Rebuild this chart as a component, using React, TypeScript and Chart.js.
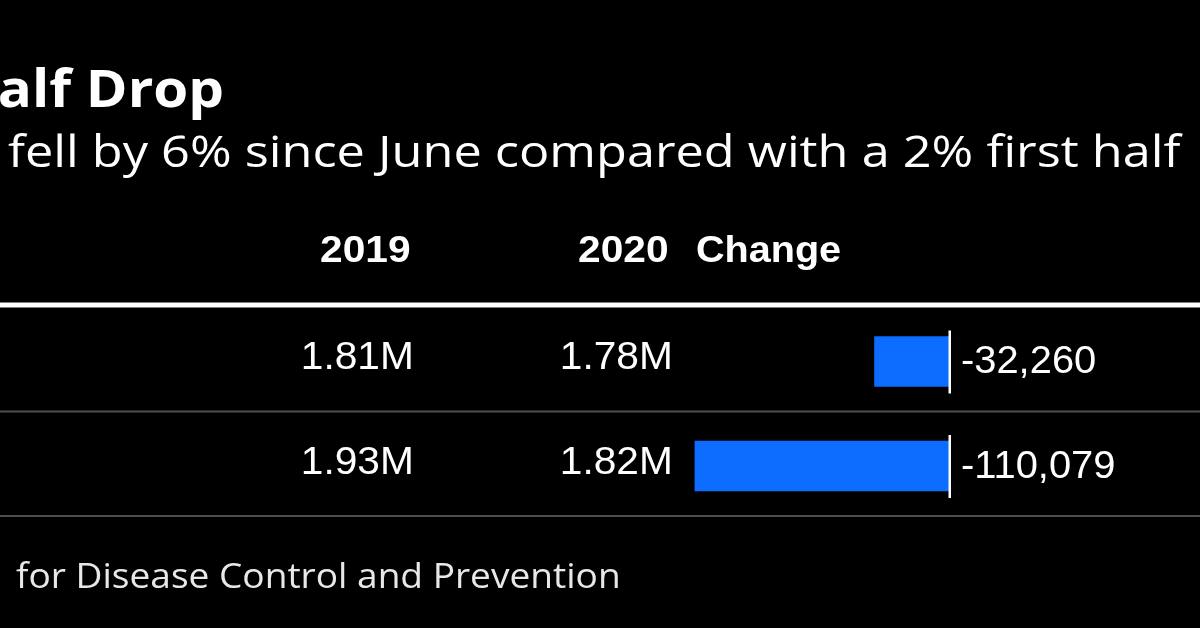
import React, { useEffect, useRef } from "react";
import { Chart, registerables } from "chart.js";

Chart.register(...registerables);

// ---- data ----
const rowNames = ["First half", "Since June"];
const values2019 = [1.81, 1.93]; // millions
const values2020 = [1.78, 1.82]; // millions
const changeValues = [-32260, -110079];
const columnHeaders = ["2019", "2020", "Change"];
const titleText = "alf Drop";
const subtitleText = "fell by 6% since June compared with a 2% first half";
const sourceText = "for Disease Control and Prevention";

type Align = "left" | "right";

function drawStretched(
  ctx: CanvasRenderingContext2D,
  text: string,
  x: number,
  y: number,
  font: string,
  align: Align,
  sx: number,
  color: string
) {
  ctx.save();
  ctx.font = font;
  ctx.textAlign = "left";
  ctx.textBaseline = "alphabetic";
  ctx.fillStyle = color;
  const m = ctx.measureText(text);
  const abl = m.actualBoundingBoxLeft;
  const abr = m.actualBoundingBoxRight;
  const ox = align === "left" ? x + abl * sx : x - abr * sx;
  ctx.translate(ox, y);
  ctx.scale(sx, 1);
  ctx.fillText(text, 0, 0);
  ctx.restore();
}

function drawFit(
  ctx: CanvasRenderingContext2D,
  text: string,
  left: number,
  right: number,
  y: number,
  font: string,
  color: string
) {
  ctx.save();
  ctx.font = font;
  const m = ctx.measureText(text);
  const ink = m.actualBoundingBoxLeft + m.actualBoundingBoxRight;
  ctx.restore();
  drawStretched(ctx, text, left, y, font, "left", (right - left) / ink, color);
}

const tablePlugin = {
  id: "tablePlugin",
  beforeDraw(chart: any) {
    const ctx = chart.ctx as CanvasRenderingContext2D;
    ctx.save();
    ctx.fillStyle = "#000000";
    ctx.fillRect(0, 0, chart.width, chart.height);
    ctx.restore();
  },
  afterDraw(chart: any) {
    const ctx = chart.ctx as CanvasRenderingContext2D;
    const xs = chart.scales.x;
    const ys = chart.scales.y;
    const white = "#ffffff";
    const SX = 1.07;

    // title & subtitle & source
    drawFit(ctx, titleText, 0, 222, 107, "bold 52px 'Open Sans'", white);
    drawFit(ctx, subtitleText, 8, 1183, 167, "44px 'Open Sans'", white);
    drawFit(ctx, sourceText, 16, 618, 588, "35px 'Open Sans'", "#e8e8e8");

    // column headers
    const hFont = "bold 37px 'Liberation Sans'";
    drawStretched(ctx, columnHeaders[0], 410, 262, hFont, "right", 1.1, white);
    drawStretched(ctx, columnHeaders[1], 668, 262, hFont, "right", 1.1, white);
    drawStretched(ctx, columnHeaders[2], 697, 262, hFont, "left", 1.07, white);

    // rules
    ctx.save();
    ctx.fillStyle = "#ffffff";
    ctx.fillRect(0, 302.5, chart.width, 5);
    ctx.fillStyle = "#4e4e4e";
    ctx.fillRect(0, 410.5, chart.width, 2);
    ctx.fillRect(0, 515, chart.width, 2);
    ctx.restore();

    // rows
    const vFont = "38px 'Liberation Sans'";
    const zeroX = xs.getPixelForValue(0);
    rowNames.forEach((_, i) => {
      const cy = ys.getPixelForValue(i);
      drawStretched(ctx, values2019[i].toFixed(2) + "M", 411, cy + 7.5, vFont, "right", SX, white);
      drawStretched(ctx, values2020[i].toFixed(2) + "M", 670, cy + 7.5, vFont, "right", SX, white);
      drawStretched(
        ctx,
        changeValues[i].toLocaleString("en-US"),
        962,
        cy + 11.5,
        vFont,
        "left",
        1.05,
        white
      );
      ctx.save();
      ctx.fillStyle = "#ffffff";
      ctx.fillRect(zeroX - 0.5, cy - 31, 2.5, 63);
      ctx.restore();
    });
  },
};

export default function App() {
  const ref = useRef<HTMLCanvasElement | null>(null);
  useEffect(() => {
    document.body.style.margin = "0";
    document.body.style.background = "#000";
    const canvas = ref.current!;
    const chart = new Chart(canvas, {
      type: "bar",
      data: {
        labels: rowNames,
        datasets: [
          {
            data: changeValues,
            backgroundColor: "#0b6cff",
            borderWidth: 0,
            barThickness: 50,
          },
        ],
      },
      options: {
        indexAxis: "y",
        responsive: false,
        animation: false,
        devicePixelRatio: 1,
        layout: {
          padding: { left: 672, right: 251, top: 309.25, bottom: 109.75 },
        },
        scales: {
          x: { display: false, min: -120000, max: 0 },
          y: { display: false },
        },
        plugins: {
          legend: { display: false },
          title: { display: false },
          tooltip: { enabled: false },
        },
      },
      plugins: [tablePlugin],
    });
    return () => chart.destroy();
  }, []);
  return (
    <div style={{ width: 1200, height: 628, background: "#000" }}>
      <canvas ref={ref} width={1200} height={628} style={{ display: "block" }} />
    </div>
  );
}
